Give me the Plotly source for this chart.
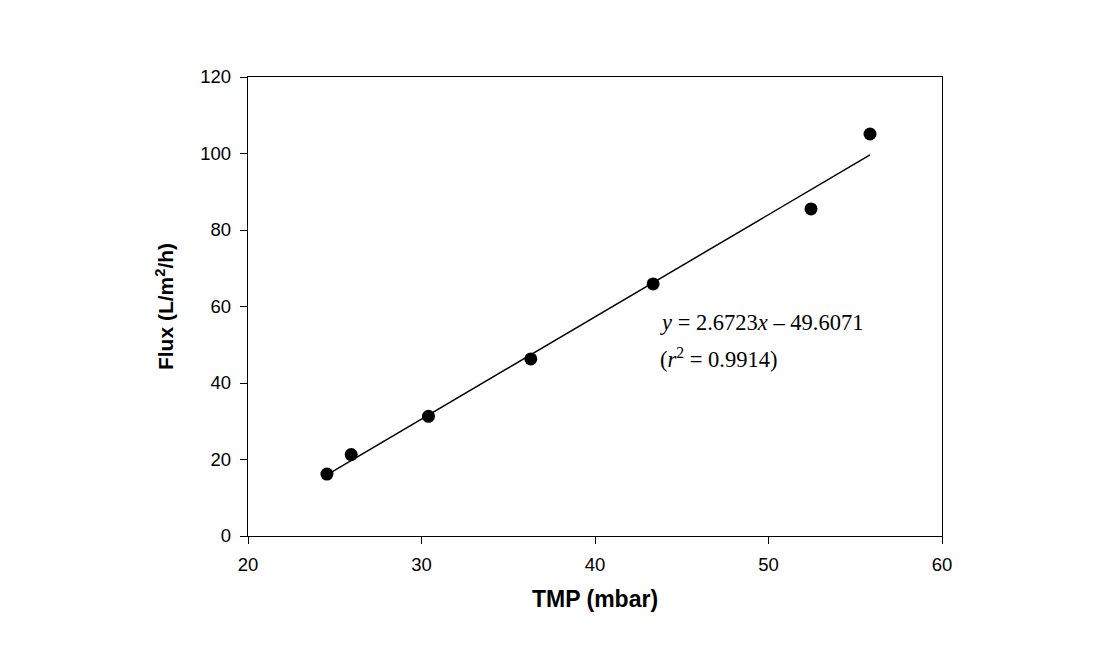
import numpy as np
import plotly.graph_objects as go

tmp = [24.55, 25.95, 30.4, 36.3, 43.35, 52.45, 55.85]
flux = [16.2, 21.3, 31.3, 46.3, 65.9, 85.5, 105.1]
slope = 2.6723
intercept = -49.6071
fit_x = [min(tmp), max(tmp)]
fit_y = [slope * v + intercept for v in fit_x]

x_ticks = [20, 30, 40, 50, 60]
y_ticks = [0, 20, 40, 60, 80, 100, 120]

fig = go.Figure()
fig.add_trace(go.Scatter(x=fit_x, y=fit_y, mode="lines",
                         line=dict(color="black", width=1.5), showlegend=False))
fig.add_trace(go.Scatter(x=tmp, y=flux, mode="markers",
                         marker=dict(color="black", size=13), showlegend=False))

eq_font = dict(family="Liberation Serif", size=22.5, color="black")
fig.add_annotation(x=43.65, y=55.9, xanchor="left", yanchor="middle", showarrow=False,
                   text="<i>y</i> = 2.6723<i>x</i> – 49.6071", font=eq_font)
fig.add_annotation(x=43.65, y=46.6, xanchor="left", yanchor="middle", showarrow=False,
                   text="(<i>r</i><sup>2</sup> = 0.9914)", font=eq_font)

axis_common = dict(showline=True, linecolor="black", linewidth=1.3, mirror=True,
                   ticks="outside", ticklen=7, tickcolor="black", tickwidth=1.3,
                   showgrid=False, zeroline=False, ticklabelstandoff=5,
                   tickfont=dict(family="Liberation Sans", size=18.5, color="black"))

fig.update_xaxes(range=[20, 60], tickvals=x_ticks,
                 title=dict(text="<b>TMP (mbar)</b>", standoff=16,
                            font=dict(family="Liberation Sans", size=23, color="black")),
                 **axis_common)
fig.update_yaxes(range=[0, 120], tickvals=y_ticks,
                 title=dict(text="<b>Flux (L/m<sup>2</sup>/h)</b>", standoff=20,
                            font=dict(family="Liberation Sans", size=21, color="black")),
                 **axis_common)

fig.update_layout(width=1105, height=647, plot_bgcolor="white", paper_bgcolor="white",
                  margin=dict(l=248, r=163, t=77, b=111))
fig.write_html("out.html")
